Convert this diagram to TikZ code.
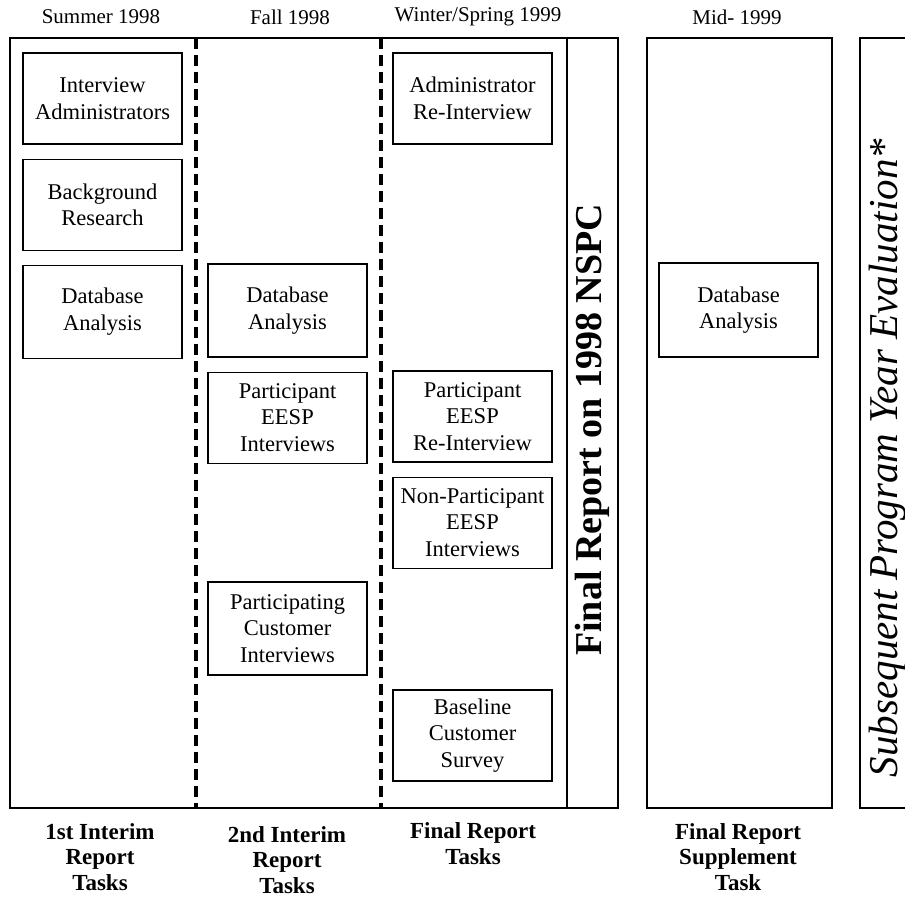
\documentclass[tikz,border=0pt]{standalone}
\usepackage{fontspec}
\setmainfont{Liberation Serif}
\usetikzlibrary{positioning}

\begin{document}
\begin{tikzpicture}[
  x=1pt, y=-1pt,
  node distance=14pt,
  task/.style={draw, line width=1.1pt, align=center, minimum width=159pt, minimum height=91pt, inner sep=0pt, font=\fontsize{22.5}{26.5}\selectfont},
  frame/.style={draw, line width=1.3pt},
  divider/.style={line width=4pt, dash pattern=on 11pt off 6pt},
  period/.style={font=\fontsize{21}{24}\selectfont},
  phase/.style={align=center, font=\bfseries\fontsize{23}{25.5}\selectfont}
]
\path[use as bounding box] (0,0) rectangle (905,902);
\clip (0,0) rectangle (905,902);

\node[period] (summer) at (101,17) {Summer 1998};
\node[period] (fall) at (290,17) {Fall 1998};
\node[period] (winter) at (478,17) {Winter/Spring 1999};
\node[period] (mid) at (737,17) {Mid- 1999};

\draw[frame] (10,38) rectangle (618,808);
\draw[frame] (567,38) -- (567,808);
\draw[divider] (195.5,38) -- (195.5,808);
\draw[divider] (381,38) -- (381,808);
\draw[frame] (647,38) rectangle (832,808);
\draw[frame] (860,38) rectangle (930,808);

\node[task] (admins) at (102.5,98.5) {Interview\\Administrators};
\node[task, below=of admins] (research) {Background\\Research};
\node[task, below=of research, minimum height=93pt] (dbfirst) {Database\\Analysis};

\node[task, minimum height=93pt] (dbsecond) at (287.5,310.5) {Database\\Analysis};
\node[task, below=of dbsecond] (eesp) {Participant\\EESP\\Interviews};
\node[task, minimum height=93pt] (customers) at (287.5,628.5) {Participating\\Customer\\Interviews};

\node[task] (adminre) at (472.5,98.5) {Administrator\\Re-Interview};
\node[task] (eespre) at (472.5,416.5) {Participant\\EESP\\Re-Interview};
\node[task, below=of eespre] (noneesp) {Non-Participant\\EESP\\Interviews};
\node[task] (baseline) at (472.5,735.5) {Baseline\\Customer\\Survey};

\node[task, minimum height=94pt] (dbsupp) at (738.5,310) {Database\\Analysis};

\node[rotate=90, font=\bfseries\fontsize{38}{40}\selectfont] (nspc) at (592.5,430) {Final Report on 1998 NSPC};
\node[rotate=90, font=\itshape\fontsize{41}{44}\selectfont] (subsequent) at (888,458) {Subsequent Program Year Evaluation*};

\node[phase] (firsttasks) at (100,857) {1st Interim\\Report\\Tasks};
\node[phase] (secondtasks) at (287,860) {2nd Interim\\Report\\Tasks};
\node[phase, anchor=north] (finaltasks) at (473,819) {Final Report\\Tasks};
\node[phase] (supptask) at (738,857) {Final Report\\Supplement\\Task};
\end{tikzpicture}
\end{document}
